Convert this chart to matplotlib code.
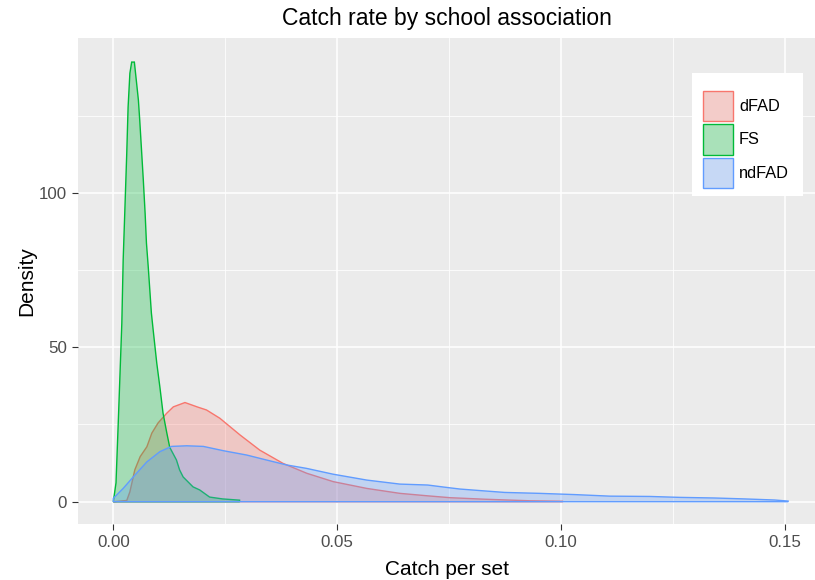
import matplotlib.pyplot as plt
import matplotlib.patches as mpatches
from matplotlib.colors import to_rgba
from matplotlib.ticker import FixedLocator

# density curves for catch per set, by school association
dfad_x = [0.0, 0.0030, 0.0037, 0.0048, 0.0060, 0.0075, 0.0086, 0.0100, 0.0119, 0.0134,
          0.0160, 0.0189, 0.0208, 0.0238, 0.0283, 0.0327, 0.0379, 0.0432, 0.0491, 0.0566,
          0.0640, 0.0702, 0.0752, 0.0830, 0.0930, 0.1004]
dfad_y = [0.0, 0.4, 3.2, 10.3, 14.6, 17.8, 22.2, 25.5, 28.6, 30.7,
          32.1, 30.6, 29.7, 27.0, 21.6, 16.7, 12.4, 9.2, 6.5, 4.3,
          2.7, 1.9, 1.3, 0.8, 0.3, 0.15]

fs_x = [0.0, 0.0006, 0.0011, 0.0015, 0.0019, 0.0022, 0.0026, 0.0030, 0.0033, 0.0037,
        0.0041, 0.0047, 0.0052, 0.0056, 0.0059, 0.0063, 0.0067, 0.0071, 0.0074, 0.0078,
        0.0082, 0.0085, 0.0089, 0.0097, 0.0104, 0.0111, 0.0119, 0.0126, 0.0141, 0.0148,
        0.0156, 0.0178, 0.0193, 0.0215, 0.0244, 0.0282]
fs_y = [0.0, 6.1, 25.5, 41.6, 57.8, 78.2, 95.4, 112.8, 127.7, 138.7,
        142.3, 142.3, 135.5, 130.0, 123.5, 113.8, 104.1, 93.4, 83.7, 76.0,
        67.5, 61.1, 55.6, 44.9, 37.1, 28.7, 22.6, 17.6, 13.5, 10.3,
        8.0, 4.8, 3.8, 1.5, 0.9, 0.5]

ndfad_x = [0.0, 0.0022, 0.0045, 0.0075, 0.0104, 0.0130, 0.0164, 0.0201, 0.0246, 0.0298,
           0.0342, 0.0387, 0.0431, 0.0491, 0.0566, 0.0640, 0.0702, 0.0740, 0.0774, 0.0819,
           0.0874, 0.0952, 0.1031, 0.1109, 0.1198, 0.1265, 0.1343, 0.1410, 0.1477, 0.1507]
ndfad_y = [1.1, 4.3, 8.1, 12.9, 16.2, 17.9, 18.1, 17.9, 16.5, 15.1,
           13.5, 11.9, 10.8, 8.9, 7.0, 5.7, 5.4, 4.7, 4.1, 3.6,
           3.0, 2.7, 2.3, 1.8, 1.7, 1.4, 1.2, 0.9, 0.55, 0.2]

groups = ["dFAD", "FS", "ndFAD"]
colors = ["#F8766D", "#00BA38", "#619CFF"]
curves = [(dfad_x, dfad_y), (fs_x, fs_y), (ndfad_x, ndfad_y)]

x_ticks = [0.0, 0.05, 0.10, 0.15]
x_labels = ["0.00", "0.05", "0.10", "0.15"]
y_ticks = [0, 50, 100]

plt.rcParams['font.family'] = ['Liberation Sans', 'DejaVu Sans']

W, H = 815, 580
fig = plt.figure(figsize=(W / 100, H / 100), dpi=100)
ax = fig.add_axes([78.3 / W, 1 - 523.7 / H, (W - 78.3) / W, (523.7 - 38.3) / H])
ax.set_facecolor("#EBEBEB")

for (x, y), c in zip(curves, colors):
    # closed outline, baseline included
    px = [x[0]] + list(x) + [x[-1], x[0]]
    py = [0] + list(y) + [0, 0]
    ax.fill(px, py, facecolor=to_rgba(c, 0.3), edgecolor=c, lw=1.0, zorder=3)

ax.set_xlim(-0.00782, 0.1567)
ax.set_ylim(-7.12, 150.0)

ax.set_xticks(x_ticks)
ax.set_xticklabels(x_labels)
ax.set_yticks(y_ticks)
ax.xaxis.set_minor_locator(FixedLocator([0.025, 0.075, 0.125]))
ax.yaxis.set_minor_locator(FixedLocator([25, 75, 125]))

ax.grid(which="major", color="white", lw=1.1, zorder=0)
ax.grid(which="minor", color="white", lw=0.55, zorder=0)
ax.set_axisbelow(True)
for s in ax.spines.values():
    s.set_visible(False)

ax.tick_params(which="major", length=4.3, width=0.8, color="#333333",
               labelsize=12.2, labelcolor="#4D4D4D", pad=4)
ax.tick_params(which="minor", length=0)

ax.set_title("Catch rate by school association", fontsize=16.5, color="black", pad=9.5)
ax.set_xlabel("Catch per set", fontsize=15, labelpad=7)
ax.set_ylabel("Density", fontsize=15, labelpad=2)

# legend drawn by hand, positions in pixels
def fx(px):
    return px / W

def fy(py):
    return 1 - py / H

fig.patches.append(mpatches.Rectangle((fx(692), fy(196.3)), 111 / W, 123.3 / H,
                                      transform=fig.transFigure, facecolor="white",
                                      edgecolor="none", zorder=5))
for i, (g, c) in enumerate(zip(groups, colors)):
    top = 90.7 + i * 33.6
    # grey key background under the translucent fill
    fig.patches.append(mpatches.Rectangle((fx(702.8), fy(top + 30.5)), 30.5 / W, 30.5 / H,
                                          transform=fig.transFigure,
                                          facecolor="#F2F2F2", edgecolor="none", zorder=6))
    fig.patches.append(mpatches.Rectangle((fx(702.8), fy(top + 30.5)), 30.5 / W, 30.5 / H,
                                          transform=fig.transFigure,
                                          facecolor=to_rgba(c, 0.3), edgecolor=c,
                                          lw=1.0, zorder=7))
    fig.text(fx(739), fy(top + 15.5), g, fontsize=11.8, color="black",
             va="center", ha="left", zorder=8)

fig.savefig("out.png", dpi=100)
